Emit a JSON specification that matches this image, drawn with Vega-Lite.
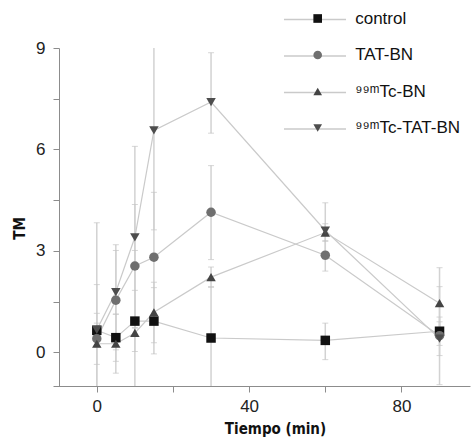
{
  "$schema": "https://vega.github.io/schema/vega-lite/v6.json",
  "width": 417,
  "height": 338,
  "autosize": {"type": "none"},
  "padding": {"left": 53, "top": 48, "right": 1, "bottom": 52},
  "config": {
    "view": {"stroke": null},
    "font": "Liberation Sans",
    "axis": {"grid": false, "domainColor": "#8c8c8c", "tickColor": "#8c8c8c", "labelColor": "#222222", "labelFontSize": 17, "labelFont": "Liberation Sans", "titleColor": "#111111", "titleFont": "'DejaVu Sans Condensed', 'Liberation Sans', sans-serif", "titleFontWeight": "bold", "titleFontSize": 15}
  },
  "data": {
    "values": [
      {"t": 0, "s": "control", "y": 0.65, "lo": 0.15, "hi": 1.15},
      {"t": 5, "s": "control", "y": 0.43, "lo": -0.27, "hi": 1.13},
      {"t": 10, "s": "control", "y": 0.92, "lo": 0.02, "hi": 1.83},
      {"t": 15, "s": "control", "y": 0.92, "lo": -0.05, "hi": 1.91},
      {"t": 30, "s": "control", "y": 0.42, "lo": -1.1, "hi": 1.94},
      {"t": 60, "s": "control", "y": 0.35, "lo": -0.22, "hi": 0.86},
      {"t": 90, "s": "control", "y": 0.62, "lo": 0.2, "hi": 1.04},
      {"t": 0, "s": "TAT-BN", "y": 0.4, "lo": -1.2, "hi": 2.0},
      {"t": 5, "s": "TAT-BN", "y": 1.54, "lo": 0.07, "hi": 3.01},
      {"t": 10, "s": "TAT-BN", "y": 2.55, "lo": 0.73, "hi": 4.37},
      {"t": 15, "s": "TAT-BN", "y": 2.81, "lo": 0.89, "hi": 4.73},
      {"t": 30, "s": "TAT-BN", "y": 4.14, "lo": 2.74, "hi": 5.52},
      {"t": 60, "s": "TAT-BN", "y": 2.87, "lo": 2.4, "hi": 3.3},
      {"t": 90, "s": "TAT-BN", "y": 0.49, "lo": -0.96, "hi": 1.94},
      {"t": 0, "s": "⁹⁹ᵐTc-BN", "y": 0.25, "lo": -0.36, "hi": 0.86},
      {"t": 5, "s": "⁹⁹ᵐTc-BN", "y": 0.25, "lo": -0.62, "hi": 1.12},
      {"t": 10, "s": "⁹⁹ᵐTc-BN", "y": 0.57, "lo": -1.87, "hi": 3.01},
      {"t": 15, "s": "⁹⁹ᵐTc-BN", "y": 1.18, "lo": 0.28, "hi": 2.07},
      {"t": 30, "s": "⁹⁹ᵐTc-BN", "y": 2.22, "lo": 1.92, "hi": 2.52},
      {"t": 60, "s": "⁹⁹ᵐTc-BN", "y": 3.54, "lo": 3.28, "hi": 3.8},
      {"t": 90, "s": "⁹⁹ᵐTc-BN", "y": 1.45, "lo": 0.4, "hi": 2.5},
      {"t": 0, "s": "⁹⁹ᵐTc-TAT-BN", "y": 0.66, "lo": -2.5, "hi": 3.83},
      {"t": 5, "s": "⁹⁹ᵐTc-TAT-BN", "y": 1.78, "lo": 0.38, "hi": 3.18},
      {"t": 10, "s": "⁹⁹ᵐTc-TAT-BN", "y": 3.4, "lo": 0.71, "hi": 6.09},
      {"t": 15, "s": "⁹⁹ᵐTc-TAT-BN", "y": 6.56, "lo": 3.62, "hi": 9.5},
      {"t": 30, "s": "⁹⁹ᵐTc-TAT-BN", "y": 7.4, "lo": 6.48, "hi": 8.86},
      {"t": 60, "s": "⁹⁹ᵐTc-TAT-BN", "y": 3.6, "lo": 2.75, "hi": 4.42},
      {"t": 90, "s": "⁹⁹ᵐTc-TAT-BN", "y": 0.4, "lo": -0.1, "hi": 0.9}
    ]
  },
  "encoding": {
    "x": {"field": "t", "type": "quantitative", "scale": {"domain": [-11.5, 98], "nice": false, "zero": false},
      "axis": {"values": [0, 20, 40, 60, 80], "labelExpr": "datum.value % 40 === 0 ? datum.label : ''", "tickSize": 6, "labelPadding": 6, "title": "Tiempo (min)", "titleX": 222, "titlePadding": 7, "labelFlush": false}}
  },
  "layer": [
    {
      "mark": {"type": "rule", "color": "#d2d2d2", "strokeWidth": 1.5, "clip": true},
      "encoding": {
        "y": {"field": "lo", "type": "quantitative", "scale": {"domain": [-1, 9], "nice": false, "zero": false},
          "axis": {"values": [0, 1.5, 3, 4.5, 6, 7.5, 9], "labelExpr": "datum.value % 3 === 0 ? datum.label : ''", "tickSize": 6, "labelPadding": 8, "offset": -6, "title": "TM", "titleY": 180, "titlePadding": 8}},
        "y2": {"field": "hi"}
      }
    },
    {
      "mark": {"type": "tick", "orient": "horizontal", "color": "#c4c4c4", "size": 6, "thickness": 1, "clip": true},
      "encoding": {"y": {"field": "lo", "type": "quantitative"}}
    },
    {
      "mark": {"type": "tick", "orient": "horizontal", "color": "#c4c4c4", "size": 6, "thickness": 1, "clip": true},
      "encoding": {"y": {"field": "hi", "type": "quantitative"}}
    },
    {
      "mark": {"type": "line", "strokeWidth": 1.2},
      "encoding": {
        "y": {"field": "y", "type": "quantitative"},
        "stroke": {"field": "s", "type": "nominal", "scale": {"range": ["#cacaca", "#cacaca", "#cacaca", "#cacaca"]},
          "legend": {"orient": "none", "legendX": 252.5, "legendY": -38, "title": null, "padding": 0, "symbolType": "M-3.65,0H3.65", "symbolSize": 289, "symbolStrokeWidth": 1.5, "symbolFillColor": "transparent", "labelExpr": "''", "labelFontSize": 17, "rowPadding": 18.5}}
      }
    },
    {
      "mark": {"type": "point", "filled": true, "opacity": 1, "size": 90},
      "encoding": {
        "y": {"field": "y", "type": "quantitative"},
        "fill": {"field": "s", "type": "nominal", "scale": {"domain": ["control", "TAT-BN", "⁹⁹ᵐTc-BN", "⁹⁹ᵐTc-TAT-BN"], "range": ["#111111", "#6f6f6f", "#444444", "#4d4d4d"]},
          "legend": {"orient": "none", "legendX": 256.2, "legendY": -38, "title": null, "padding": 0, "labelFontSize": 17, "labelColor": "#111111", "labelOffset": 29, "rowPadding": 18.5, "symbolOpacity": 1, "symbolSize": 75}},
        "shape": {"field": "s", "type": "nominal", "scale": {"domain": ["control", "TAT-BN", "⁹⁹ᵐTc-BN", "⁹⁹ᵐTc-TAT-BN"], "range": ["square", "circle", "triangle-up", "triangle-down"]}}
      }
    }
  ]
}
